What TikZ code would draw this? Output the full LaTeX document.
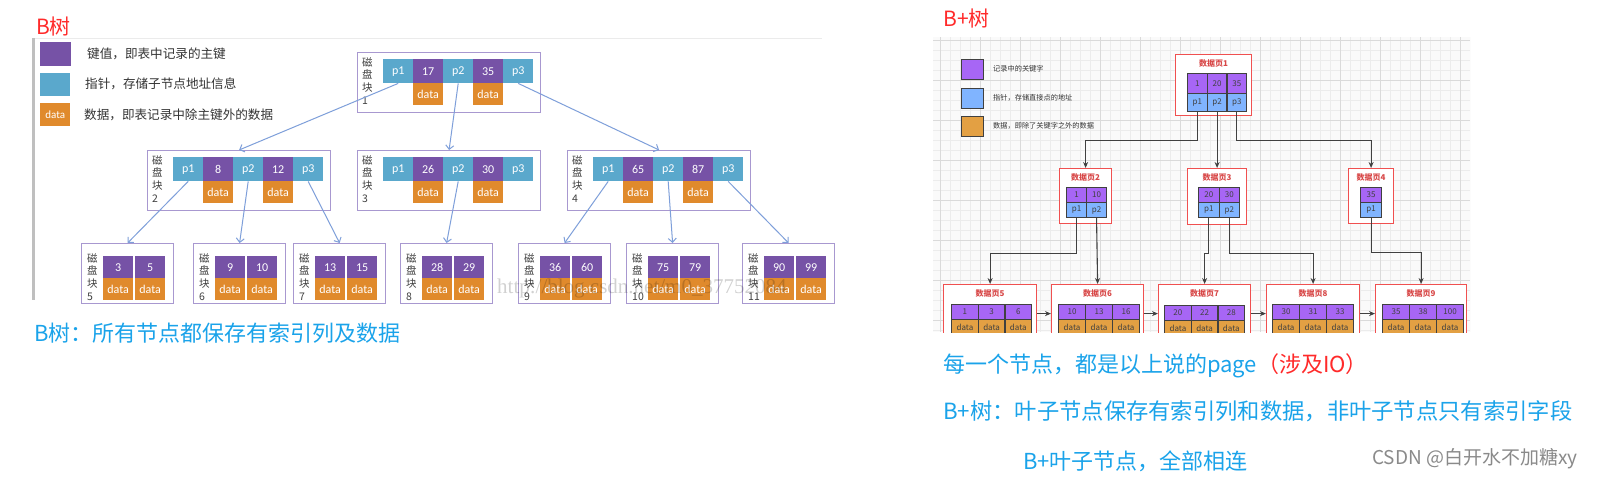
\documentclass[tikz,border=0pt]{standalone}
\usepackage{fontspec}
\setmainfont{Noto Sans CJK SC}
\newfontfamily\carl{Carlito}
\newfontfamily\wmserif{Liberation Serif}
\usetikzlibrary{arrows.meta,calc}
\definecolor{titlered}{HTML}{FF2A2A}
\definecolor{noteblue}{HTML}{1AA3EA}
\definecolor{bpurple}{HTML}{7652A6}
\definecolor{bblue}{HTML}{5AA8CC}
\definecolor{borange}{HTML}{E08A2C}
\definecolor{bframe}{HTML}{A898D0}
\definecolor{barrow}{HTML}{7E9FDA}
\definecolor{ppurple}{HTML}{A766F5}
\definecolor{pblue}{HTML}{80B4FF}
\definecolor{porange}{HTML}{E3A043}
\definecolor{pframe}{HTML}{F05050}
\definecolor{pline}{HTML}{404040}
\definecolor{gridminor}{HTML}{ECECEC}
\definecolor{gridmajor}{HTML}{DADADA}
\definecolor{csdngray}{HTML}{8A8A8A}
\tikzset{
  bframebox/.style={draw=bframe, line width=1.2pt, minimum width=183pt, minimum height=60pt, inner sep=0pt, anchor=north west},
  bleafbox/.style={draw=bframe, line width=1.2pt, minimum width=92pt, minimum height=60pt, inner sep=0pt, anchor=north west},
  blabel/.style={anchor=north west, inner sep=0pt, align=left, text=black!75, font=\fontsize{10.5}{12.7}\selectfont},
  bcell/.style={minimum width=30pt, minimum height=24pt, inner sep=0pt, anchor=north west, text=white, font=\carl\fontsize{12}{12}\selectfont},
  bkey/.style={bcell, fill=bpurple},
  bptr/.style={bcell, fill=bblue},
  bdata/.style={bcell, fill=borange, minimum height=22pt},
  barrowline/.style={draw=barrow, line width=1pt, -{Straight Barb[length=4pt,width=8pt]}},
  blegtext/.style={anchor=west, inner sep=0pt, text=black!80, font=\fontsize{12.6}{12.6}\selectfont},
  pframebox/.style={draw=pframe, line width=1.2pt, fill=white, inner sep=0pt, anchor=north west},
  ptitle/.style={inner sep=0pt, text=pframe!90!black, font=\bfseries\fontsize{8}{8}\selectfont},
  pcell/.style={draw=pline, line width=1.1pt, inner sep=0pt, anchor=north west, text=black!75, font=\fontsize{8}{8}\selectfont},
  pkey/.style={pcell, fill=ppurple},
  pptr/.style={pcell, fill=pblue},
  pdata/.style={pcell, fill=porange},
  parrow/.style={draw=pline, line width=1.1pt, -{Stealth[length=6pt,width=5pt]}},
  plegtext/.style={anchor=west, inner sep=0pt, text=black!80, font=\fontsize{7.2}{7.2}\selectfont},
  titletext/.style={anchor=west, inner sep=0pt, text=titlered, font=\fontsize{21}{21}\selectfont},
  notetext/.style={anchor=west, inner sep=0pt, text=noteblue, font=\fontsize{22}{22}\selectfont},
}
\newcommand\BTblock[6]{%
  \node[bframebox] (#1) at (#2,#3) {};
  \node[blabel] (#1-lab) at ($(#2,#3)+(5,5)$) {磁\\盘\\块\\#4};
  \node[bptr] (#1-p1) at ($(#2,#3)+(26,7)$) {p1};
  \node[bkey] (#1-k1) at ($(#2,#3)+(56,7)$) {#5};
  \node[bptr] (#1-p2) at ($(#2,#3)+(86,7)$) {p2};
  \node[bkey] (#1-k2) at ($(#2,#3)+(116,7)$) {#6};
  \node[bptr] (#1-p3) at ($(#2,#3)+(146,7)$) {p3};
  \node[bdata] (#1-d1) at ($(#2,#3)+(56,31)$) {data};
  \node[bdata] (#1-d2) at ($(#2,#3)+(116,31)$) {data};
}
\newcommand\BTleaf[5]{%
  \node[bleafbox] (#1) at (#2,243) {};
  \node[blabel] (#1-lab) at ($(#2,243)+(6,10)$) {磁\\盘\\块\\#3};
  \node[bkey, minimum height=22pt] (#1-k1) at ($(#2,243)+(22,13)$) {#4};
  \node[bkey, minimum height=22pt] (#1-k2) at ($(#2,243)+(54,13)$) {#5};
  \node[bdata] (#1-d1) at ($(#2,243)+(22,35)$) {data};
  \node[bdata] (#1-d2) at ($(#2,243)+(54,35)$) {data};
}
\newcommand\BPframe[6]{%
  \node[pframebox, minimum width=#4pt, minimum height=#5pt] (#1) at (#2,#3) {};
  \node[ptitle] (#1-t) at ($(#1.north)+(0,9)$) {数据页#6};
}
\newcommand\BProw[8]{%
  \foreach \t [count=\i] in {#8} {
    \node[#7, minimum width=#5pt, minimum height=#6pt] (#1-#2\i) at ({#3+(\i-1)*#5},#4) {\t};
  }
}
\begin{document}
\begin{tikzpicture}[x=1pt,y=-1pt]
\useasboundingbox (0,0) rectangle (1599,477);
\fill[white] (0,0) rectangle (1599,477);

% ---------------- B tree (left) ----------------
\node[titletext] (btitle) at (36,27) {B树};
\fill[black!25] (32,38) rectangle (35,300);
\draw[black!8] (35,38.5) -- (822,38.5);

\node[bkey, minimum width=31pt, minimum height=24pt] (legk) at (40,42) {};
\node[bptr, minimum width=30pt, minimum height=23pt] (legp) at (40,73) {};
\node[bdata, minimum width=30pt, minimum height=23pt, font=\carl\fontsize{11}{11}\selectfont] (legd) at (40,103) {data};
\node[blegtext] (legkt) at (87,54) {键值，即表中记录的主键};
\node[blegtext] (legpt) at (85,84) {指针，存储子节点地址信息};
\node[blegtext] (legdt) at (84,115) {数据，即表记录中除主键外的数据};

\BTblock{b1}{357}{52}{1}{17}{35}
\BTblock{b2}{147}{150}{2}{8}{12}
\BTblock{b3}{357}{150}{3}{26}{30}
\BTblock{b4}{567}{150}{4}{65}{87}

\BTleaf{l5}{81}{5}{3}{5}
\BTleaf{l6}{193}{6}{9}{10}
\BTleaf{l7}{293}{7}{13}{15}
\BTleaf{l8}{400}{8}{28}{29}
\BTleaf{l9}{518}{9}{36}{60}
\BTleaf{l10}{626}{10}{75}{79}
\BTleaf{l11}{742}{11}{90}{99}

\draw[barrowline] (b1-p1.south) -- (b2.north);
\draw[barrowline] (b1-p2.south) -- (b3.north);
\draw[barrowline] (b1-p3.south) -- (b4.north);
\draw[barrowline] (b2-p1.south) -- (l5.north);
\draw[barrowline] (b2-p2.south) -- (l6.north);
\draw[barrowline] (b2-p3.south) -- (l7.north);
\draw[barrowline] (b3-p2.south) -- (l8.north);
\draw[barrowline] (b4-p1.south) -- (l9.north);
\draw[barrowline] (b4-p2.south) -- (l10.north);
\draw[barrowline] (b4-p3.south) -- (l11.north);

\node[anchor=west, inner sep=0pt, text=black, opacity=0.18, font=\wmserif\fontsize{21}{21}\selectfont] (wm) at (497,288) {http://blog.csdn.net/m0\_37752084};

\node[notetext] (bnote) at (34,333) {B树：所有节点都保存有索引列及数据};

% ---------------- B+ tree (right) ----------------
\node[titletext] (bptitle) at (943,19) {B+树};
\begin{scope}
\clip (933,37) rectangle (1470,332);
\fill[black!2] (933,37) rectangle (1470,332);
\foreach \gx in {940,950,...,1470} \draw[gridminor, line width=0.6pt] (\gx,37) -- (\gx,332);
\foreach \gy in {40,50,...,330} \draw[gridminor, line width=0.6pt] (933,\gy) -- (1470,\gy);
\foreach \gx in {940,980,...,1470} \draw[gridmajor, line width=0.6pt] (\gx,37) -- (\gx,332);
\foreach \gy in {40,80,...,330} \draw[gridmajor, line width=0.6pt] (933,\gy) -- (1470,\gy);

\node[pkey, minimum width=22pt, minimum height=20pt] (plk) at (961,59) {};
\node[pptr, minimum width=22pt, minimum height=20pt] (plp) at (961,88) {};
\node[pdata, minimum width=22pt, minimum height=20pt] (pld) at (961,116) {};
\node[plegtext] (plkt) at (993,69) {记录中的关键字};
\node[plegtext] (plpt) at (993,98) {指针，存储直接点的地址};
\node[plegtext] (pldt) at (993,126) {数据，即除了关键字之外的数据};

\BPframe{pg1}{1175}{54}{76}{61}{1}
\BProw{pg1}{k}{1187}{73}{19.7}{20}{pkey}{1,20,35}
\BProw{pg1}{p}{1187}{93}{19.7}{18}{pptr}{p1,p2,p3}

\BPframe{pg2}{1059}{168}{52}{55}{2}
\BProw{pg2}{k}{1066}{187}{20}{15}{pkey}{1,10}
\BProw{pg2}{p}{1066}{202}{20}{15}{pptr}{p1,p2}

\BPframe{pg3}{1187}{168}{59}{56}{3}
\BProw{pg3}{k}{1198}{187}{20.5}{15}{pkey}{20,30}
\BProw{pg3}{p}{1198}{202}{20.5}{15}{pptr}{p1,p2}

\BPframe{pg4}{1348}{168}{45}{55}{4}
\BProw{pg4}{k}{1360}{187}{21}{15}{pkey}{35}
\BProw{pg4}{p}{1360}{202}{21}{15}{pptr}{p1}

\BPframe{pg5}{943}{284}{93}{58}{5}
\BProw{pg5}{k}{951}{304}{26.7}{15}{pkey}{1,3,6}
\BProw{pg5}{d}{951}{319}{26.7}{15}{pdata}{data,data,data}

\BPframe{pg6}{1051}{284}{92}{58}{6}
\BProw{pg6}{k}{1058}{304}{27}{15}{pkey}{10,13,16}
\BProw{pg6}{d}{1058}{319}{27}{15}{pdata}{data,data,data}

\BPframe{pg7}{1158}{284}{92}{58}{7}
\BProw{pg7}{k}{1164}{305}{26.7}{15}{pkey}{20,22,28}
\BProw{pg7}{d}{1164}{320}{26.7}{15}{pdata}{data,data,data}

\BPframe{pg8}{1266}{284}{93}{58}{8}
\BProw{pg8}{k}{1272}{304}{27}{15}{pkey}{30,31,33}
\BProw{pg8}{d}{1272}{319}{27}{15}{pdata}{data,data,data}

\BPframe{pg9}{1375}{284}{91}{58}{9}
\BProw{pg9}{k}{1382}{304}{27}{15}{pkey}{35,38,100}
\BProw{pg9}{d}{1382}{319}{27}{15}{pdata}{data,data,data}

\draw[parrow] (pg1-p1.south) -- ++(0,28) -| (pg2.north);
\draw[parrow] (pg1-p2.south) -- (pg3.north);
\draw[parrow] (pg1-p3.south) -- ++(0,28) -| (pg4.north);
\draw[parrow] (pg2-p1.south) -- ++(0,35) -| (pg5.north);
\draw[parrow] (pg2-p2.south) -- (pg6.north);
\draw[parrow] (pg3-p1.south) -- ++(0,35) -| (pg7.north);
\draw[parrow] (pg3-p2.south) -- ++(0,35) -| (pg8.north);
\draw[parrow] (pg4-p1.south) -- ++(0,34) -| (pg9.north);
\draw[parrow] (pg5.east) -- (pg6.west);
\draw[parrow] (pg6.east) -- (pg7.west);
\draw[parrow] (pg7.east) -- (pg8.west);
\draw[parrow] (pg8.east) -- (pg9.west);
\end{scope}

\node[notetext] (pnote1) at (943,366) {每一个节点，都是以上说的page\textcolor{titlered}{（涉及IO）}};
\node[notetext, font=\fontsize{22.3}{22.3}\selectfont] (pnote2) at (943,411) {B+树：叶子节点保存有索引列和数据，非叶子节点只有索引字段};
\node[notetext] (pnote3) at (1023,461) {B+叶子节点，全部相连};
\node[anchor=west, inner sep=0pt, text=csdngray, font=\fontsize{19}{19}\selectfont] (csdn) at (1372,459) {CSDN @白开水不加糖xy};
\end{tikzpicture}
\end{document}
